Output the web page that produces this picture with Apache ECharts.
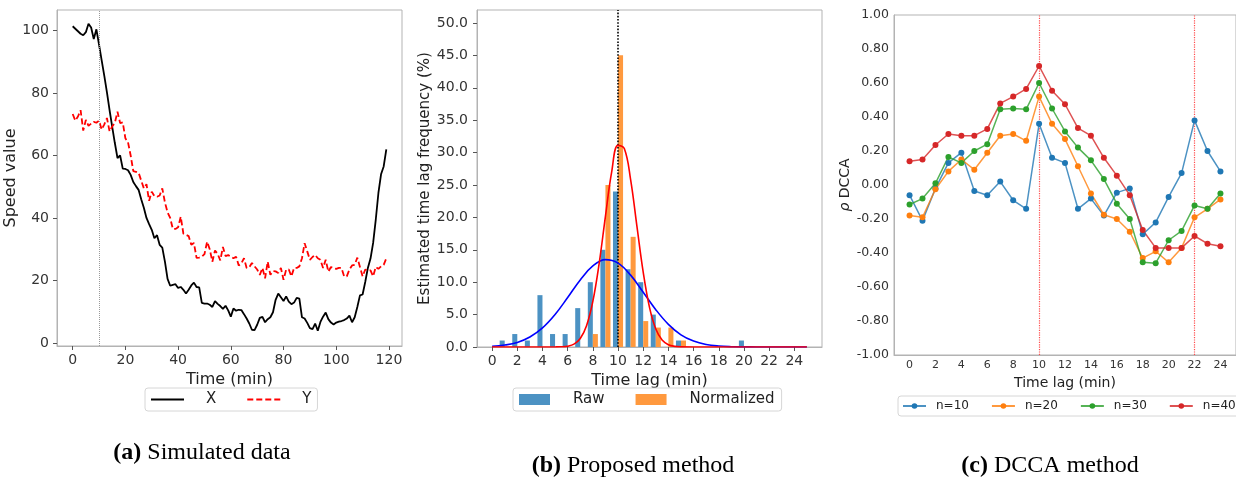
<!DOCTYPE html>
<html>
<head>
<meta charset="utf-8">
<script src="https://cdn.jsdelivr.net/npm/echarts@6/dist/echarts.min.js"></script>
<style>
html, body { margin: 0; padding: 0; background: #fff; }
#chart { width: 1236px; height: 482px; }
</style>
</head>
<body>
<div id="chart"></div>
<script>
// (a) simulated speed series, one value per minute (0..119)
var speedX = [101.4,100.6,99.8,99.0,98.5,99.5,102.2,101.0,97.3,100.4,
  95.5,90.5,85.5,80.2,74.5,69.2,64.0,59.2,60.0,55.8,
  55.7,55.3,53.8,51.5,50.2,49.0,46.0,43.3,40.0,38.0,
  36.2,33.5,34.5,31.4,30.5,26.0,20.5,18.3,18.6,18.8,
  17.6,17.9,17.0,15.8,17.0,18.4,19.3,17.9,17.8,12.8,
  12.6,12.6,12.2,11.5,13.4,12.5,11.8,10.9,11.9,10.4,
  8.4,11.0,10.3,10.6,10.5,9.2,7.8,6.2,4.2,4.1,
  5.8,8.0,8.3,6.6,7.6,8.2,9.8,13.8,15.8,14.6,
  13.4,14.9,13.2,12.4,12.9,14.4,14.2,8.2,7.8,6.4,
  4.7,4.4,6.2,3.9,6.7,8.4,9.7,7.6,6.5,5.9,
  6.5,6.8,7.0,7.3,7.8,8.7,6.6,8.2,11.5,15.2,
  15.5,19.5,24.0,27.0,32.0,39.5,48.0,54.0,56.5,62.0];
var speedY = [73.3,71.2,72.5,74.5,68.0,71.4,69.5,70.2,70.8,70.5,
  71.2,68.3,70.0,72.0,67.7,69.3,70.5,74.0,70.4,70.6,
  65.5,64.2,60.0,55.0,54.8,54.5,52.0,49.5,50.8,45.5,
  48.4,47.0,46.8,47.2,49.5,45.0,41.8,40.0,36.5,36.5,
  37.0,40.4,35.0,34.6,34.2,31.4,32.0,27.2,27.3,27.6,
  28.4,32.4,30.0,26.0,29.6,28.5,26.4,30.7,27.8,28.1,
  27.6,27.1,27.6,24.8,25.5,27.1,24.0,24.2,25.6,24.5,
  23.5,21.8,24.0,20.7,26.0,21.8,23.0,22.9,22.4,24.0,
  20.2,23.5,23.5,21.3,24.0,24.0,24.5,27.1,31.9,29.3,
  26.6,27.5,28.2,27.1,26.6,24.0,26.6,22.8,24.3,23.9,
  23.7,24.0,24.0,21.3,21.3,23.5,24.8,25.0,27.3,24.3,
  21.3,23.5,23.2,23.2,21.3,24.3,23.7,24.5,25.0,27.1];
var timeTicks = [0, 20, 40, 60, 80, 100, 120];
var speedTicks = [0, 20, 40, 60, 80, 100];
var trueLag = 10;

// (b) estimated lag histogram (%)
var rawLag = [1, 2, 3, 4, 5, 6, 7, 8, 9, 10, 11, 12, 13, 15, 20];
var rawPct = [1, 2, 1, 8, 2, 2, 6, 10, 15, 24, 12, 10, 5, 1, 1];
var normLag = [8, 9, 10, 11, 12, 13, 14, 15];
var normPct = [2, 25, 45, 17, 4, 3, 3, 1];
var blueFitX = [0,1,2,3,4,5,6,7,8,9,10,11,12,13,14,15,16,17,18,19,20,21,22,23,24,25];
var blueFitY = [0.11,0.30,0.71,1.54,2.95,5.02,7.63,10.35,12.51,13.48,12.95,11.09,8.46,5.76,3.50,1.88,0.91,0.39,0.15,0.05,0.02,0.01,0,0,0,0];
var redFitX = [0,2,4,5,5.5,6,6.5,7,7.5,8,8.5,9,9.5,10,10.5,11,11.5,12,12.5,13,13.5,14,14.5,15,16,18,20,22,25];
var redFitY = [0,0,0,0.01,0.03,0.13,0.45,1.32,3.29,7.03,12.86,20.17,27.06,31.11,30.63,25.83,18.65,11.54,6.11,2.77,1.08,0.36,0.10,0.02,0,0,0,0,0];
var lagTicks = [0, 2, 4, 6, 8, 10, 12, 14, 16, 18, 20, 22, 24];
var freqTicks = [0, 5, 10, 15, 20, 25, 30, 35, 40, 45, 50];

// (c) DCCA coefficient per lag
var dccaLag = [0,1,2,3,4,5,6,7,8,9,10,11,12,13,14,15,16,17,18,19,20,21,22,23,24];
var n10 = [-0.06,-0.21,-0.02,0.13,0.19,-0.035,-0.06,0.02,-0.09,-0.14,0.36,0.16,0.13,-0.14,-0.08,-0.18,-0.045,-0.02,-0.29,-0.22,-0.07,0.07,0.38,0.20,0.08];
var n20 = [-0.18,-0.19,-0.025,0.08,0.15,0.09,0.19,0.29,0.30,0.26,0.52,0.36,0.27,0.11,-0.05,-0.175,-0.20,-0.275,-0.43,-0.39,-0.455,-0.37,-0.19,-0.14,-0.085];
var n30 = [-0.115,-0.08,0.01,0.165,0.13,0.20,0.24,0.445,0.45,0.445,0.60,0.45,0.315,0.22,0.145,0.035,-0.11,-0.20,-0.455,-0.46,-0.325,-0.27,-0.12,-0.14,-0.05];
var n40 = [0.14,0.15,0.235,0.30,0.29,0.29,0.33,0.48,0.52,0.565,0.70,0.555,0.475,0.335,0.29,0.16,0.055,-0.06,-0.265,-0.37,-0.37,-0.37,-0.30,-0.345,-0.36];
var rhoTicks = [-1, -0.8, -0.6, -0.4, -0.2, 0, 0.2, 0.4, 0.6, 0.8, 1];
var peakLags = [10, 22];

var font = 'DejaVu Sans';
var ink = '#333';
var spine = '#b3b3b3';
var barW = 0.4;

function pairs(xs, ys) {
  return xs.map(function (x, i) { return [x, ys[i]]; });
}

function barItem(offset) {
  return function (params, api) {
    var x = api.value(0) + offset;
    var a = api.coord([x - barW / 2, api.value(1)]);
    var b = api.coord([x + barW / 2, 0]);
    return {
      type: 'rect',
      shape: { x: a[0], y: a[1], width: b[0] - a[0], height: b[1] - a[1] },
      style: api.style()
    };
  };
}

function axis(grid, min, max, ticks, opts) {
  return {
    type: 'value', gridIndex: grid, min: min, max: max,
    axisLine: { show: true, onZero: false, lineStyle: { color: spine } },
    axisTick: { show: opts.tick !== false, length: 4, customValues: ticks, lineStyle: { color: '#555' } },
    axisLabel: {
      customValues: ticks, color: ink, fontFamily: font, fontSize: opts.size,
      margin: opts.margin, formatter: opts.fmt
    },
    splitLine: { show: false },
    name: opts.name, nameLocation: 'middle', nameGap: opts.gap,
    nameTextStyle: {
      color: '#222', fontFamily: font, fontSize: opts.nameSize,
      rich: { i: { fontStyle: 'italic', fontFamily: font, fontSize: opts.nameSize, color: '#222' } }
    }
  };
}

var chart = echarts.init(document.getElementById('chart'));
var option = {
  animation: false,
  backgroundColor: '#fff',
  grid: [
    { left: 57, top: 10, width: 345, height: 336, show: true, borderColor: spine, borderWidth: 1 },
    { left: 477, top: 10, width: 345, height: 337, show: true, borderColor: spine, borderWidth: 1 },
    { left: 894, top: 15, width: 343, height: 340, show: true, borderColor: spine, borderWidth: 1 }
  ],
  xAxis: [
    axis(0, -5.95, 124.95, timeTicks, { size: 14, margin: 7, name: 'Time (min)', gap: 22, nameSize: 16 }),
    axis(1, -1.2, 26.2, lagTicks, { size: 14, margin: 7, name: 'Time lag (min)', gap: 21, nameSize: 16 }),
    axis(2, -1.2, 25.2, lagTicks, { size: 11, margin: 5, tick: false, name: 'Time lag (min)', gap: 19, nameSize: 14 })
  ],
  yAxis: [
    axis(0, -1, 106.6, speedTicks, { size: 14, margin: 8, name: 'Speed value', gap: 34, nameSize: 16 }),
    axis(1, 0, 52, freqTicks, { size: 14, margin: 9, name: 'Estimated time lag frequency (%)', gap: 39,
      nameSize: 15, fmt: function (v) { return v.toFixed(1); } }),
    axis(2, -1, 1, rhoTicks, { size: 12.5, margin: 5, tick: false, name: '{i|ρ} DCCA', gap: 40,
      nameSize: 14, fmt: function (v) { return v.toFixed(2); } })
  ],
  legend: [
    { data: ['X', 'Y'], left: 145, top: 388, itemWidth: 33, itemHeight: 14, itemGap: 30,
      itemStyle: { opacity: 0 },
      padding: [4, 6, 4, 5], borderColor: '#d6d6d6', borderWidth: 1, borderRadius: 3,
      textStyle: { fontSize: 15, fontFamily: font, color: '#222', padding: [0, 0, 0, 17] } },
    { data: ['Raw', 'Normalized'], left: 513, top: 388, icon: 'rect', itemWidth: 31, itemHeight: 11, itemGap: 31,
      padding: [4, 7, 4, 6], borderColor: '#d6d6d6', borderWidth: 1, borderRadius: 3,
      textStyle: { fontSize: 15, fontFamily: font, color: '#222', padding: [0, 0, 0, 18] } },
    { data: ['n=10', 'n=20', 'n=30', 'n=40'], left: 898, top: 396, width: 340, itemWidth: 23, itemHeight: 7, itemGap: 22,
      padding: [4, 4, 4, 4], borderColor: '#d6d6d6', borderWidth: 1, borderRadius: 3,
      textStyle: { fontSize: 12, fontFamily: font, color: '#222', padding: [0, 0, 0, 5] } }
  ],
  graphic: [
    { type: 'text', x: 202, y: 453, style: { text: '{b|(a)} Simulated data', fontSize: 24, fontFamily: 'Liberation Serif',
      fill: '#000', align: 'center', verticalAlign: 'middle',
      rich: { b: { fontWeight: 'bold', fontSize: 24, fontFamily: 'Liberation Serif' } } } },
    { type: 'text', x: 633, y: 466, style: { text: '{b|(b)} Proposed method', fontSize: 24, fontFamily: 'Liberation Serif',
      fill: '#000', align: 'center', verticalAlign: 'middle',
      rich: { b: { fontWeight: 'bold', fontSize: 24, fontFamily: 'Liberation Serif' } } } },
    { type: 'text', x: 1050, y: 466, style: { text: '{b|(c)} DCCA method', fontSize: 24, fontFamily: 'Liberation Serif',
      fill: '#000', align: 'center', verticalAlign: 'middle',
      rich: { b: { fontWeight: 'bold', fontSize: 24, fontFamily: 'Liberation Serif' } } } }
  ],
  series: [
    { name: 'X', type: 'line', xAxisIndex: 0, yAxisIndex: 0, symbol: 'none', color: '#000',
      lineStyle: { width: 1.8 }, data: speedX.map(function (v, t) { return [t, v]; }),
      markLine: { silent: true, symbol: 'none', label: { show: false },
        lineStyle: { color: '#999', type: 'dotted', width: 1 }, data: [{ xAxis: trueLag }] } },
    { name: 'Y', type: 'line', xAxisIndex: 0, yAxisIndex: 0, symbol: 'none', color: '#ff0000',
      lineStyle: { width: 1.8, type: [6, 3] }, data: speedY.map(function (v, t) { return [t, v]; }) },

    { name: 'Raw', type: 'custom', xAxisIndex: 1, yAxisIndex: 1, itemStyle: { color: '#4c92c3' },
      renderItem: barItem(-0.2), encode: { x: 0, y: 1 }, data: pairs(rawLag, rawPct) },
    { name: 'Normalized', type: 'custom', xAxisIndex: 1, yAxisIndex: 1, itemStyle: { color: '#ff993e' },
      renderItem: barItem(0.2), encode: { x: 0, y: 1 }, data: pairs(normLag, normPct) },
    { name: 'raw fit', type: 'line', xAxisIndex: 1, yAxisIndex: 1, symbol: 'none', smooth: 0.4, z: 5,
      color: '#0000ff', lineStyle: { width: 1.6 }, data: pairs(blueFitX, blueFitY) },
    { name: 'normalized fit', type: 'line', xAxisIndex: 1, yAxisIndex: 1, symbol: 'none', smooth: 0.4, z: 6,
      color: '#ff0000', lineStyle: { width: 1.6 }, data: pairs(redFitX, redFitY),
      markLine: { silent: true, symbol: 'none', label: { show: false },
        lineStyle: { color: '#000', type: 'dotted', width: 1.6 }, data: [{ xAxis: trueLag }] } },

    { name: 'n=10', type: 'line', xAxisIndex: 2, yAxisIndex: 2, symbol: 'circle', symbolSize: 6, color: '#1f77b4',
      lineStyle: { width: 1.5, opacity: 0.8 }, data: pairs(dccaLag, n10),
      markLine: { silent: true, symbol: 'none', label: { show: false }, z: 1,
        lineStyle: { color: '#ff4d4d', type: 'dotted', width: 1.2, opacity: 1 },
        data: peakLags.map(function (l) { return { xAxis: l }; }) } },
    { name: 'n=20', type: 'line', xAxisIndex: 2, yAxisIndex: 2, symbol: 'circle', symbolSize: 6, color: '#ff7f0e',
      lineStyle: { width: 1.5, opacity: 0.8 }, data: pairs(dccaLag, n20) },
    { name: 'n=30', type: 'line', xAxisIndex: 2, yAxisIndex: 2, symbol: 'circle', symbolSize: 6, color: '#2ca02c',
      lineStyle: { width: 1.5, opacity: 0.8 }, data: pairs(dccaLag, n30) },
    { name: 'n=40', type: 'line', xAxisIndex: 2, yAxisIndex: 2, symbol: 'circle', symbolSize: 6, color: '#d62728',
      lineStyle: { width: 1.5, opacity: 0.8 }, data: pairs(dccaLag, n40) }
  ]
};
chart.setOption(option);
</script>
</body>
</html>
